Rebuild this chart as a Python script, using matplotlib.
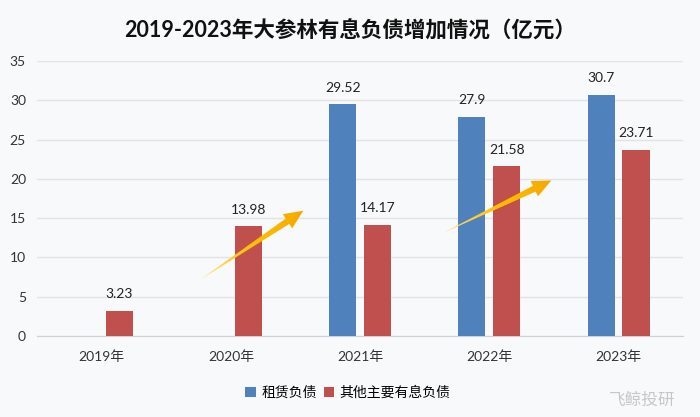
import matplotlib.pyplot as plt
import numpy as np
from matplotlib.patches import Polygon
from matplotlib.transforms import IdentityTransform

plt.rcParams['font.family'] = ['Lato', 'Noto Sans CJK SC', 'DejaVu Sans']

years = ['2019年', '2020年', '2021年', '2022年', '2023年']
lease = [np.nan, np.nan, 29.52, 27.9, 30.7]
other = [3.23, 13.98, 14.17, 21.58, 23.71]
lease_labels = ['', '', '29.52', '27.9', '30.7']
other_labels = ['3.23', '13.98', '14.17', '21.58', '23.71']

blue = '#4F81BD'
red = '#C0504D'
bg = '#F8F9FA'

fig = plt.figure(figsize=(7, 4.17), dpi=100, facecolor=bg)
ax = fig.add_axes([0.053, 0.194, 0.923, 0.66], facecolor=bg)

x = np.arange(len(years))
w = 0.21
off = 0.135
b1 = ax.bar(x - off, lease, w, color=blue, label='租赁负债', zorder=3)
b2 = ax.bar(x + off, other, w, color=red, label='其他主要有息负债', zorder=3)

for xi, v, s in zip(x, lease, lease_labels):
    if s:
        ax.text(xi - off, v + 1.3, s, ha='center', va='bottom', fontsize=10, color='#222222')
for xi, v, s in zip(x, other, other_labels):
    ax.text(xi + off, v + 1.3, s, ha='center', va='bottom', fontsize=10, color='#222222')

ax.set_xlim(-0.5, 4.5)
ax.set_ylim(0, 35)
ax.set_yticks(range(0, 36, 5))
ax.set_xticks(x)
ax.set_xticklabels(years)
ax.tick_params(axis='both', length=0, labelsize=10, colors='#333333')
ax.tick_params(axis='x', pad=10)
ax.tick_params(axis='y', pad=8)
ax.grid(axis='y', color='#E3E3E3', linewidth=1, zorder=0)
for s in ['top', 'right', 'left']:
    ax.spines[s].set_visible(False)
ax.spines['bottom'].set_color('#D0D0D0')


def trend_arrow(start, end):
    # tapered arrow drawn in pixel space so its shape is not squashed by the axes
    p0 = ax.transData.transform(start)
    p1 = ax.transData.transform(end)
    d = p1 - p0
    L = np.hypot(*d)
    u = d / L
    n = np.array([-u[1], u[0]])
    head_len, head_w, tail_w = 19, 8.5, 3.2
    base = p1 - u * head_len
    pts = [p0, base - n * tail_w, base - n * head_w, p1, base + n * head_w, base + n * tail_w]
    poly = Polygon(pts, closed=True, transform=IdentityTransform(), facecolor='none',
                   edgecolor='none', zorder=5)
    ax.add_patch(poly)
    # yellow-to-orange gradient along the arrow
    grad = np.linspace(0, 1, 256).reshape(1, -1)
    xs = [p[0] for p in pts]
    ys = [p[1] for p in pts]
    from matplotlib.colors import LinearSegmentedColormap
    cmap = LinearSegmentedColormap.from_list('arr', ['#FFE27A', '#FFC000', '#F5A800'])
    im = ax.imshow(grad if d[0] > 0 else grad[:, ::-1], cmap=cmap, aspect='auto',
                   extent=[min(xs), max(xs), min(ys), max(ys)],
                   transform=IdentityTransform(), zorder=5)
    im.set_clip_path(poly)


fig.canvas.draw()
trend_arrow((0.76, 7.15), (1.56, 15.95))
trend_arrow((2.64, 13.1), (3.48, 19.8))
ax.set_xlim(-0.5, 4.5)
ax.set_ylim(0, 35)

fig.text(0.5, 0.925, '2019-2023年大参林有息负债增加情况（亿元）', ha='center', va='center',
         fontsize=15.5, fontweight='bold', color='#111111')

fig.legend(handles=[b1, b2], loc='center', bbox_to_anchor=(0.497, 0.06), ncol=2,
           frameon=False, fontsize=10, handlelength=0.75, handleheight=0.75,
           handletextpad=0.4, columnspacing=0.5)

fig.text(0.965, 0.04, '飞鲸投研', ha='right', va='center', fontsize=12,
         color='#BBBBBB', alpha=0.8)

fig.savefig('out.png', dpi=100, facecolor=bg)
